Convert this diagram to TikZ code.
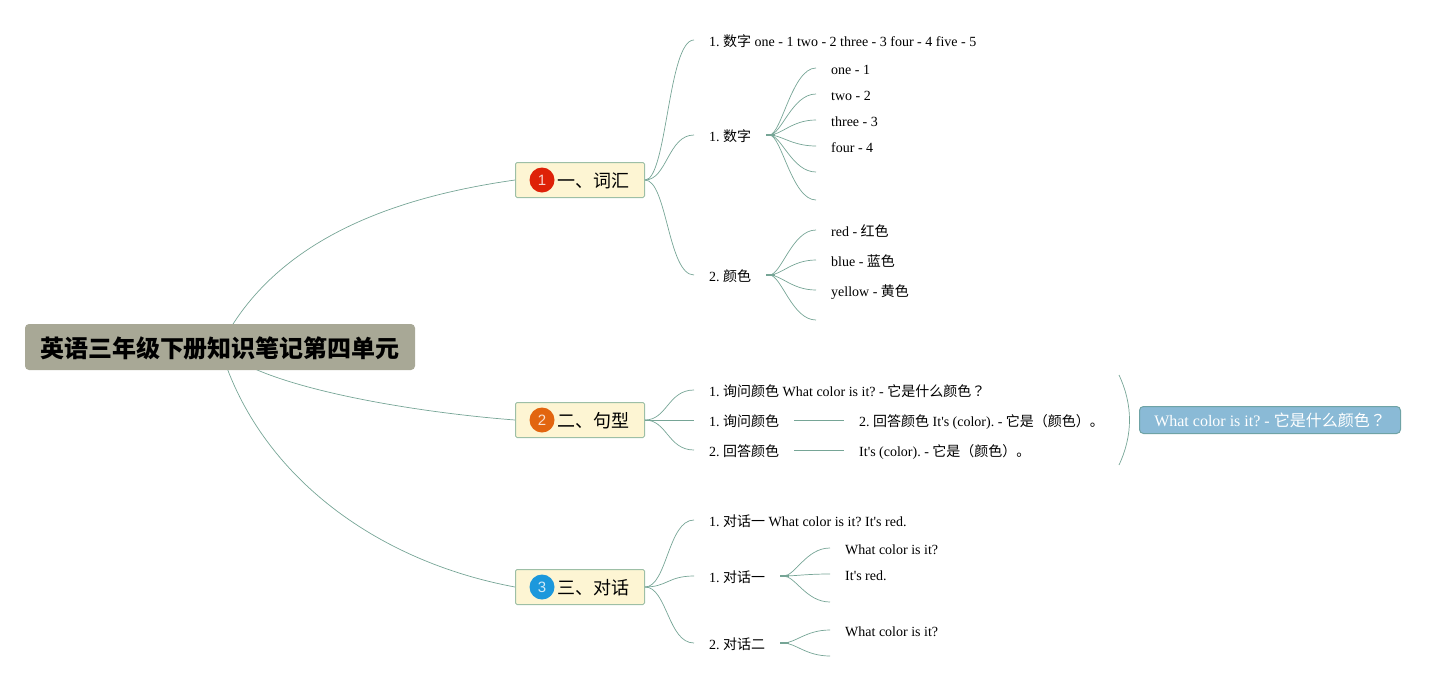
\documentclass[tikz,border=0pt]{standalone}
\usepackage{fontspec}
\setmainfont{Liberation Serif}[Ligatures=TeXOff]
\newfontfamily\cjk{Noto Sans CJK SC}
\newfontfamily\cjkmark{Noto Sans CJK TC}
\newfontfamily\badgefont{Liberation Sans}
\newcommand{\zh}[1]{{\cjk #1}}
\AtBeginDocument{\frenchspacing}
\usetikzlibrary{backgrounds}
\definecolor{branchcol}{HTML}{76A596}
\definecolor{rootcol}{HTML}{A8A896}
\definecolor{topiccol}{HTML}{FDF5D3}
\definecolor{topicline}{HTML}{9DBFA6}
\definecolor{notecol}{HTML}{8ABAD6}
\definecolor{noteline}{HTML}{6FA3A6}
\definecolor{badgered}{HTML}{DE2108}
\definecolor{badgeorange}{HTML}{E2650F}
\definecolor{badgeblue}{HTML}{1C98DC}
\tikzset{
    branch/.style={draw=branchcol, line width=0.7pt},
    stub/.style={draw=branchcol, line width=1.2pt},
    root/.style={fill=rootcol, rounded corners=4pt, minimum width=390pt, minimum height=46pt,
        inner sep=0pt, text height=22pt, text depth=1pt, font=\fontsize{24}{28}\selectfont\cjk\bfseries},
    topic/.style={draw=topicline, fill=topiccol, line width=1pt, rounded corners=1.5pt, minimum width=129pt,
        minimum height=35pt, inner sep=0pt, text height=17pt, text depth=3pt, font=\fontsize{18}{20}\selectfont},
    badge/.style={circle, fill=#1, minimum size=25pt, inner sep=0pt, text=white, text opacity=0.8,
        font=\fontsize{15}{15}\selectfont\badgefont},
    leaf/.style={anchor=west, inner xsep=15pt, inner ysep=0pt, text height=12pt, text depth=0pt,
        font=\fontsize{14}{16}\selectfont},
    note/.style={draw=noteline, fill=notecol, line width=1pt, rounded corners=4pt, minimum width=261pt,
        minimum height=27pt, inner sep=0pt, text=white, font=\fontsize{16}{18}\selectfont},
}
\begin{document}
\begin{tikzpicture}[x=1pt, y=-1pt]
    \useasboundingbox (0,0) rectangle (1446,683);
    %
    \node[root] (root) at (220,347) {英语三年级下册知识笔记第四单元};
    %
    \node[topic] (topicA) at (580,180) {\hspace*{26pt}\zh{一、词汇}};
    \node[topic] (topicB) at (580,420) {\hspace*{26pt}\zh{二、句型}};
    \node[topic] (topicC) at (580,587) {\hspace*{26pt}\zh{三、对话}};
    \node[badge=badgered] (badgeA) at (542,180) {1};
    \node[badge=badgeorange] (badgeB) at (542,420) {2};
    \node[badge=badgeblue] (badgeC) at (542,587) {3};
    %
    \node[leaf] (numline) at (694,40) {1. \zh{数字} one - 1 two - 2 three - 3 four - 4 five - 5};
    \node[leaf] (num) at (694,135) {1. \zh{数字}};
    \node[leaf] (one) at (816,68) {one - 1};
    \node[leaf] (two) at (816,94) {two - 2};
    \node[leaf] (three) at (816,120) {three - 3};
    \node[leaf] (four) at (816,146) {four - 4};
    \coordinate (numgapA) at (816,172);
    \coordinate (numgapB) at (816,200);
    \node[leaf] (color) at (694,275) {2. \zh{颜色}};
    \node[leaf] (red) at (816,230) {red - \zh{红色}};
    \node[leaf] (blue) at (816,260) {blue - \zh{蓝色}};
    \node[leaf] (yellow) at (816,290) {yellow - \zh{黄色}};
    \coordinate (colorgap) at (816,320);
    %
    \node[leaf] (askline) at (694,390) {1. \zh{询问颜色} What color is it? - \zh{它是什么颜色}{\cjkmark ？}};
    \node[leaf] (ask) at (694,420) {1. \zh{询问颜色}};
    \node[leaf] (answer) at (694,450) {2. \zh{回答颜色}};
    \node[leaf] (askto) at (844,420) {2. \zh{回答颜色} It's (color). - \zh{它是（颜色）。}};
    \node[leaf] (answerto) at (844,450) {It's (color). - \zh{它是（颜色）。}};
    \coordinate (braceA) at (1119,375);
    \coordinate (braceB) at (1119,465);
    \node[note] (note) at (1270,420) {What color is it? - \zh{它是什么颜色}{\cjkmark ？}};
    %
    \node[leaf] (talkline) at (694,520) {1. \zh{对话一} What color is it? It's red.};
    \node[leaf] (talkA) at (694,576) {1. \zh{对话一}};
    \node[leaf] (talkAq) at (830,548) {What color is it?};
    \node[leaf] (talkAa) at (830,574) {It's red.};
    \coordinate (talkgap) at (830,602);
    \node[leaf] (talkB) at (694,643) {2. \zh{对话二}};
    \node[leaf] (talkBq) at (830,630) {What color is it?};
    \coordinate (talkBgap) at (830,656);
    %
    \begin{scope}[on background layer]
        \draw[branch] (root.center) .. controls (277,232) and (410,195) .. (topicA.west);
        \draw[branch] (root.center) .. controls (256,386) and (410,412) .. (topicB.west);
        \draw[branch] (root.center) .. controls (256,470) and (370,560) .. (topicC.west);
    \end{scope}
    %
    \foreach \kid in {numline,num,color}
        \draw[branch] (topicA.east) .. controls +(22,0) and +(-26,0) .. (\kid.west);
    \foreach \kid in {askline,answer}
        \draw[branch] (topicB.east) .. controls +(22,0) and +(-26,0) .. (\kid.west);
    \draw[branch] (topicB.east) -- (ask.west);
    \foreach \kid in {talkline,talkA,talkB}
        \draw[branch] (topicC.east) .. controls +(22,0) and +(-26,0) .. (\kid.west);
    %
    \foreach \kid in {one.west,two.west,three.west,four.west,numgapA,numgapB}
        \draw[branch] (num.east) -- ++(3,0) .. controls +(12,0) and +(-24,0) .. (\kid);
    \draw[stub] (num.east) -- ++(9,0);
    \foreach \kid in {red.west,blue.west,yellow.west,colorgap}
        \draw[branch] (color.east) -- ++(3,0) .. controls +(12,0) and +(-24,0) .. (\kid);
    \draw[stub] (color.east) -- ++(9,0);
    \foreach \kid in {talkAq.west,talkAa.west,talkgap}
        \draw[branch] (talkA.east) -- ++(3,0) .. controls +(12,0) and +(-24,0) .. (\kid);
    \draw[stub] (talkA.east) -- ++(9,0);
    \foreach \kid in {talkBq.west,talkBgap}
        \draw[branch] (talkB.east) -- ++(3,0) .. controls +(12,0) and +(-24,0) .. (\kid);
    \draw[stub] (talkB.east) -- ++(9,0);
    %
    \draw[branch] (ask.east) -- (askto.west);
    \draw[branch] (answer.east) -- (answerto.west);
    \draw[branch] (braceA) .. controls (1133,405) and (1133,435) .. (braceB);
\end{tikzpicture}
\end{document}
